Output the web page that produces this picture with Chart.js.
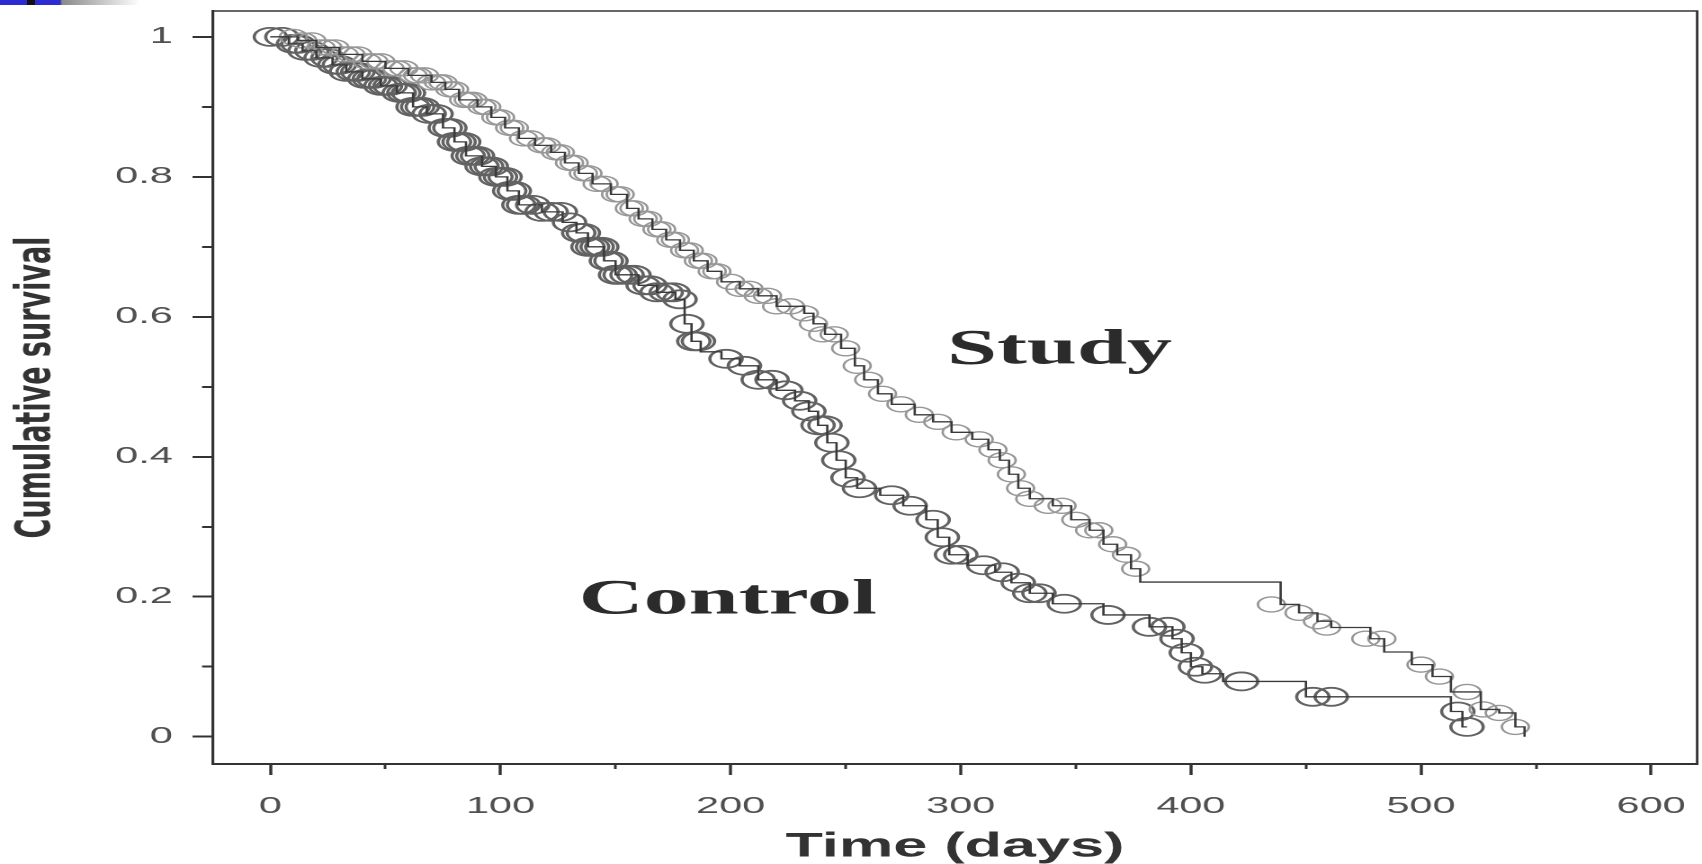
<!DOCTYPE html>
<html>
<head>
<meta charset="utf-8">
<title>Cumulative survival – Study vs Control</title>
<script src="https://cdn.jsdelivr.net/npm/chart.js@4.4.1/dist/chart.umd.min.js"></script>
<style>
  html, body { margin: 0; padding: 0; background: #ffffff; }
  #wrap { position: relative; width: 1702px; height: 864px; overflow: hidden; }
  #strip { position: absolute; left: 0; top: 0; width: 140px; height: 5px;
    background: linear-gradient(to right, #2c2cd2 0px, #2c2cd2 27px, #111 27px, #111 35px, #2c2cd2 35px, #2c2cd2 60px, #8a8a8a 62px, #ffffff 140px); }
</style>
</head>
<body>
<div id="wrap">
<canvas id="c" width="946" height="864" style="display:block;width:1702px;height:864px;"></canvas>
<div id="strip"></div>
</div>
<script>
// ---------------- data ----------------
// Kaplan–Meier step points: day at which survival drops to the given value
const controlStepDays = [0, 8, 14, 20, 27, 33, 40, 48, 55, 62, 68, 75, 80, 85, 92, 98, 103, 108, 118, 127, 133, 138, 145, 150, 160, 168, 176, 180, 183, 187, 196, 204, 212, 220, 228, 234, 238, 242, 246, 250, 255, 265, 275, 285, 290, 295, 303, 315, 322, 330, 340, 362, 382, 392, 396, 400, 405, 414, 450, 513, 518, 520];
const controlStepSurv = [1.0, 0.99, 0.98, 0.97, 0.96, 0.95, 0.94, 0.93, 0.92, 0.90, 0.89, 0.87, 0.85, 0.83, 0.815, 0.80, 0.78, 0.76, 0.75, 0.735, 0.72, 0.70, 0.68, 0.66, 0.645, 0.635, 0.625, 0.59, 0.565, 0.55, 0.54, 0.53, 0.51, 0.495, 0.48, 0.465, 0.445, 0.42, 0.395, 0.37, 0.355, 0.345, 0.33, 0.31, 0.285, 0.26, 0.245, 0.235, 0.22, 0.205, 0.19, 0.174, 0.157, 0.14, 0.12, 0.10, 0.09, 0.079, 0.057, 0.036, 0.014, 0.014];

const studyStepDays = [0, 12, 20, 30, 40, 50, 60, 70, 76, 82, 90, 96, 102, 108, 115, 122, 128, 134, 140, 148, 155, 160, 166, 172, 178, 184, 190, 196, 204, 212, 220, 232, 236, 241, 248, 254, 258, 264, 270, 280, 288, 296, 305, 312, 317, 321, 325, 330, 340, 348, 356, 362, 368, 374, 378, 439, 447, 455, 461, 478, 484, 496, 505, 513, 526, 534, 541, 545];
const studyStepSurv = [1.0, 0.995, 0.985, 0.975, 0.965, 0.955, 0.945, 0.935, 0.925, 0.91, 0.90, 0.885, 0.87, 0.855, 0.845, 0.835, 0.82, 0.805, 0.79, 0.775, 0.755, 0.74, 0.725, 0.71, 0.695, 0.68, 0.665, 0.65, 0.64, 0.63, 0.615, 0.605, 0.59, 0.575, 0.555, 0.53, 0.51, 0.49, 0.475, 0.46, 0.45, 0.435, 0.425, 0.41, 0.395, 0.375, 0.355, 0.34, 0.33, 0.31, 0.295, 0.275, 0.26, 0.24, 0.221, 0.189, 0.177, 0.165, 0.156, 0.14, 0.121, 0.103, 0.086, 0.064, 0.039, 0.034, 0.014, 0.0];

// censored observations (circles)
const controlCensorDays = [0, 5, 10, 12, 15, 18, 22, 25, 28, 30, 33, 36, 38, 41, 43, 45, 48, 50, 52, 56, 58, 60, 62, 64, 66, 69, 72, 76, 78, 80, 82, 84, 86, 88, 90, 92, 94, 96, 98, 100, 102, 104, 106, 108, 110, 114, 118, 122, 126, 130, 134, 136, 138, 140, 142, 144, 146, 148, 150, 152, 155, 158, 162, 165, 168, 172, 175, 178, 181, 184, 186, 198, 206, 212, 218, 224, 230, 234, 238, 241, 244, 247, 251, 256, 270, 278, 288, 292, 296, 300, 310, 318, 325, 330, 334, 345, 364, 382, 390, 394, 398, 402, 406, 422, 453, 461, 516, 520];
const controlCensorSurv = [1.0, 1.0, 0.99, 0.99, 0.98, 0.98, 0.97, 0.97, 0.96, 0.96, 0.95, 0.95, 0.95, 0.94, 0.94, 0.94, 0.93, 0.93, 0.93, 0.92, 0.92, 0.92, 0.90, 0.90, 0.90, 0.89, 0.89, 0.87, 0.87, 0.85, 0.85, 0.85, 0.83, 0.83, 0.83, 0.815, 0.815, 0.815, 0.80, 0.80, 0.80, 0.78, 0.78, 0.76, 0.76, 0.76, 0.75, 0.75, 0.75, 0.735, 0.72, 0.72, 0.70, 0.70, 0.70, 0.70, 0.68, 0.68, 0.66, 0.66, 0.66, 0.66, 0.645, 0.645, 0.635, 0.635, 0.635, 0.625, 0.59, 0.565, 0.565, 0.54, 0.53, 0.51, 0.51, 0.495, 0.48, 0.465, 0.445, 0.445, 0.42, 0.395, 0.37, 0.355, 0.345, 0.33, 0.31, 0.285, 0.26, 0.26, 0.245, 0.235, 0.22, 0.205, 0.205, 0.19, 0.174, 0.157, 0.157, 0.14, 0.12, 0.10, 0.09, 0.079, 0.057, 0.057, 0.036, 0.014];

const studyCensorDays = [10, 14, 18, 22, 25, 28, 32, 35, 38, 42, 45, 48, 52, 55, 58, 62, 64, 67, 70, 73, 75, 78, 80, 84, 86, 88, 92, 94, 98, 100, 104, 106, 110, 113, 118, 120, 124, 126, 130, 132, 136, 138, 142, 145, 150, 152, 156, 158, 162, 164, 168, 170, 174, 176, 180, 182, 186, 188, 192, 194, 200, 204, 208, 212, 216, 220, 226, 232, 236, 240, 245, 250, 255, 260, 266, 274, 282, 290, 298, 308, 314, 318, 322, 326, 330, 338, 344, 350, 356, 360, 366, 372, 376, 435, 447, 455, 459, 476, 483, 500, 508, 520, 527, 534, 541];
const studyCensorSurv = [1.0, 0.995, 0.995, 0.985, 0.985, 0.985, 0.975, 0.975, 0.975, 0.965, 0.965, 0.965, 0.955, 0.955, 0.955, 0.945, 0.945, 0.945, 0.935, 0.935, 0.935, 0.925, 0.925, 0.91, 0.91, 0.91, 0.90, 0.90, 0.885, 0.885, 0.87, 0.87, 0.855, 0.855, 0.845, 0.845, 0.835, 0.835, 0.82, 0.82, 0.805, 0.805, 0.79, 0.79, 0.775, 0.775, 0.755, 0.755, 0.74, 0.74, 0.725, 0.725, 0.71, 0.71, 0.695, 0.695, 0.68, 0.68, 0.665, 0.665, 0.65, 0.64, 0.64, 0.63, 0.63, 0.615, 0.615, 0.605, 0.59, 0.575, 0.575, 0.555, 0.53, 0.51, 0.49, 0.475, 0.46, 0.45, 0.435, 0.425, 0.41, 0.395, 0.375, 0.355, 0.34, 0.33, 0.33, 0.31, 0.295, 0.295, 0.275, 0.26, 0.24, 0.189, 0.177, 0.165, 0.156, 0.14, 0.14, 0.103, 0.086, 0.064, 0.039, 0.034, 0.014];

// axis ticks
const xTickValues = [0, 100, 200, 300, 400, 500, 600];
const xTickLabels = ['0', '100', '200', '300', '400', '500', '600'];
const xMinorTickValues = [50, 150, 250, 350, 450, 550];
const yTickValues = [0, 0.2, 0.4, 0.6, 0.8, 1];
const yTickLabels = ['0', '0.2', '0.4', '0.6', '0.8', '1'];
const yMinorTickValues = [0.1, 0.3, 0.5, 0.7, 0.9];

// group labels placed in data space
const groupLabelTexts = ['Study', 'Control'];
const groupLabelDays = [294, 134];
const groupLabelSurv = [0.533, 0.176];

// ---------------- chart ----------------
const toPoints = (xs, ys) => xs.map((x, i) => ({ x: x, y: ys[i] }));

const frameAndLabels = {
  id: 'frameAndLabels',
  afterDraw(chart) {
    const { ctx, chartArea, scales } = chart;
    ctx.save();
    ctx.strokeStyle = '#333333';
    ctx.lineWidth = 1.4;
    ctx.beginPath();
    ctx.moveTo(chartArea.left, chartArea.top);
    ctx.lineTo(chartArea.right, chartArea.top);
    ctx.lineTo(chartArea.right, chartArea.bottom);
    ctx.stroke();
    ctx.fillStyle = '#2b2b2b';
    ctx.font = 'bold 50px "Liberation Serif", "Times New Roman", serif';
    ctx.textAlign = 'left';
    ctx.textBaseline = 'alphabetic';
    groupLabelTexts.forEach((t, i) => {
      ctx.fillText(t, scales.x.getPixelForValue(groupLabelDays[i]), scales.y.getPixelForValue(groupLabelSurv[i]));
    });
    ctx.restore();
  }
};

const setTicks = (vals) => (scale) => { scale.ticks = vals.map(v => ({ value: v })); };
const fixBox = (dim, size) => (s) => {
  s[dim] = size;
  s.paddingTop = 0; s.paddingBottom = 0; s.paddingLeft = 0; s.paddingRight = 0;
};

new Chart(document.getElementById('c'), {
  type: 'scatter',
  data: {
    datasets: [
      {
        label: 'Control',
        data: toPoints(controlStepDays, controlStepSurv),
        showLine: true, stepped: true,
        borderColor: '#3a3a3a', borderWidth: 1.3,
        pointRadius: 0, pointHoverRadius: 0, order: 1
      },
      {
        label: 'Study',
        data: toPoints(studyStepDays, studyStepSurv),
        showLine: true, stepped: true,
        borderColor: '#3a3a3a', borderWidth: 1.3,
        pointRadius: 0, pointHoverRadius: 0, order: 1
      },
      {
        label: 'Control censored',
        data: toPoints(controlCensorDays, controlCensorSurv),
        showLine: false,
        pointStyle: 'circle', pointRadius: 9, pointHoverRadius: 9,
        pointBorderWidth: 1.8, pointBorderColor: '#626262',
        pointBackgroundColor: 'rgba(0,0,0,0)', order: 3
      },
      {
        label: 'Study censored',
        data: toPoints(studyCensorDays, studyCensorSurv),
        showLine: false,
        pointStyle: 'circle', pointRadius: 7.5, pointHoverRadius: 7.5,
        pointBorderWidth: 1.4, pointBorderColor: '#979797',
        pointBackgroundColor: 'rgba(0,0,0,0)', order: 2
      }
    ]
  },
  options: {
    responsive: false,
    animation: false,
    devicePixelRatio: 2,
    layout: { autoPadding: false, padding: { top: 11, right: 2.7, left: 0, bottom: 0 } },
    plugins: { legend: { display: false }, tooltip: { enabled: false } },
    scales: {
      x: {
        type: 'linear', position: 'bottom', weight: 1,
        min: -25, max: 620,
        afterBuildTicks: setTicks(xTickValues),
        afterFit: fixBox('height', 100),
        grid: { drawOnChartArea: false, drawTicks: true, tickLength: 11, tickWidth: 1.7, tickColor: '#333333' },
        border: { display: true, color: '#333333', width: 2 },
        ticks: {
          padding: 18, color: '#505050', maxRotation: 0, autoSkip: false,
          font: { family: '"Liberation Sans", Arial, sans-serif', size: 23 },
          callback: (v, i) => xTickLabels[i]
        },
        title: {
          display: true, text: 'Time (days)', color: '#333333',
          font: { family: '"Liberation Sans", Arial, sans-serif', size: 34, weight: 'bold', lineHeight: 1 },
          padding: { top: 0, bottom: 0 }
        }
      },
      x2: {
        type: 'linear', position: 'bottom', weight: 0,
        min: -25, max: 620,
        afterBuildTicks: setTicks(xMinorTickValues),
        afterFit: fixBox('height', 0),
        grid: { drawOnChartArea: false, drawTicks: true, tickLength: 5, tickWidth: 1.5, tickColor: '#333333' },
        border: { display: false },
        ticks: { display: false }
      },
      y: {
        type: 'linear', position: 'left', weight: 1,
        min: -0.039, max: 1.037,
        afterBuildTicks: setTicks(yTickValues),
        afterFit: fixBox('width', 118.3),
        grid: { drawOnChartArea: false, drawTicks: true, tickLength: 11.3, tickWidth: 2, tickColor: '#333333' },
        border: { display: true, color: '#333333', width: 1.6 },
        ticks: {
          padding: 11, color: '#505050',
          font: { family: '"Liberation Sans", Arial, sans-serif', size: 23 },
          callback: (v, i) => yTickLabels[i]
        },
        title: {
          display: true, text: 'Cumulative survival', color: '#333333',
          font: { family: '"DejaVu Sans", sans-serif', size: 27, weight: 'bold', lineHeight: 1 },
          padding: { top: 7, bottom: 0 }
        }
      },
      y2: {
        type: 'linear', position: 'left', weight: 0,
        min: -0.039, max: 1.037,
        afterBuildTicks: setTicks(yMinorTickValues),
        afterFit: fixBox('width', 0),
        grid: { drawOnChartArea: false, drawTicks: true, tickLength: 6, tickWidth: 2, tickColor: '#333333' },
        border: { display: false },
        ticks: { display: false }
      }
    }
  },
  plugins: [frameAndLabels]
});
</script>
</body>
</html>
